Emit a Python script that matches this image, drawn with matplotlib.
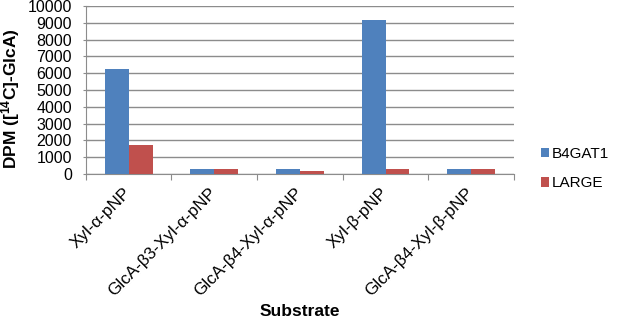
import matplotlib
matplotlib.use("Agg")
import matplotlib.pyplot as plt
import numpy as np

categories = ["Xyl-α-pNP", "GlcA-β3-Xyl-α-pNP", "GlcA-β4-Xyl-α-pNP", "Xyl-β-pNP", "GlcA-β4-Xyl-β-pNP"]
b4gat1 = [6280, 280, 270, 9200, 280]
large = [1700, 290, 200, 270, 290]
yticks = list(range(0, 10001, 1000))

plt.rcParams['font.family'] = ['Liberation Sans', 'DejaVu Sans']
plt.rcParams['mathtext.fontset'] = 'custom'
plt.rcParams['mathtext.rm'] = 'Liberation Sans'
plt.rcParams['mathtext.bf'] = 'Liberation Sans:bold'

fig = plt.figure(figsize=(6.17, 3.22), dpi=100)
ax = fig.add_axes([0.139, 0.460, 0.694, 0.521])

x = np.arange(len(categories))
w = 0.28
ax.bar(x - w/2, b4gat1, w, color='#4F81BD', label='B4GAT1', zorder=3)
ax.bar(x + w/2, large, w, color='#C0504D', label='LARGE', zorder=3)

ax.set_xlim(-0.5, len(categories) - 0.5)
ax.set_ylim(0, 10000)
ax.set_yticks(yticks)
ax.set_yticklabels([str(t) for t in yticks], fontsize=11.5)
ax.yaxis.grid(True, color='#8c8c8c', linewidth=1.0, zorder=0)
ax.tick_params(axis='y', length=4, color='#8c8c8c', direction='inout', pad=8)

ax.set_xticks(np.arange(-0.5, len(categories) + 0.5, 1.0), minor=False)
ax.set_xticklabels([])
ax.set_xticks(x, minor=True)
ax.set_xticklabels(categories, minor=True, rotation=45, ha='right', va='center',
                   rotation_mode='anchor', fontsize=12.3)
ax.tick_params(axis='x', which='major', length=4, color='#8c8c8c', direction='out')
ax.tick_params(axis='x', which='minor', length=0, pad=12)

for s in ['top', 'right']:
    ax.spines[s].set_visible(False)
ax.spines['bottom'].set_color('#8c8c8c')
ax.spines['left'].set_color('#8c8c8c')

ax.set_ylabel(r'DPM ([$\mathbf{^{14}}$C]-GlcA)', fontsize=12.5, fontweight='bold', va='center')
ax.yaxis.set_label_coords(-0.175, 0.45)
ax.set_xlabel('Substrate', fontsize=12.5, fontweight='bold', va='top')
ax.xaxis.set_label_coords(0.5, -0.775)

leg = ax.legend(loc='center left', bbox_to_anchor=(1.03, 0.03), frameon=False,
                fontsize=11, handlelength=0.55, handleheight=0.55, handletextpad=0.15,
                labelspacing=1.0)

fig.savefig('out.png', dpi=100)
